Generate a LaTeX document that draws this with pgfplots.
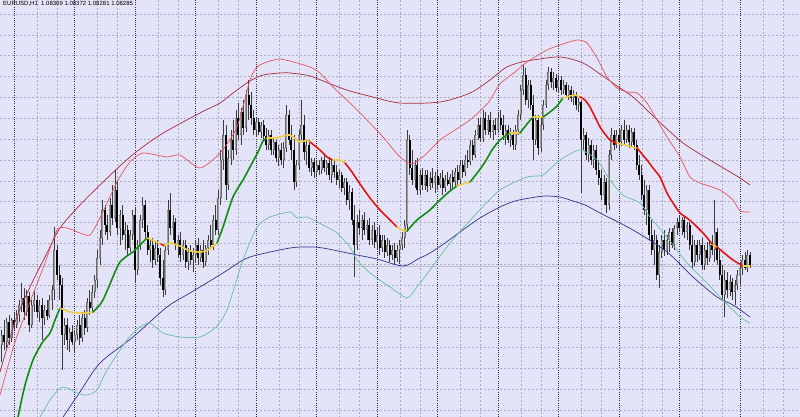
\documentclass[border=0pt]{standalone}
\usepackage{pgfplots}
\usepackage{pgfplotstable}
\usepackage{fontspec}
\setmainfont{Liberation Sans}
\pgfplotsset{compat=1.18}

\definecolor{bg}{RGB}{228,228,248}
\definecolor{gridc}{RGB}{170,170,195}
\definecolor{sepc}{RGB}{50,50,70}
\definecolor{wick}{RGB}{60,60,60}
\definecolor{bullin}{RGB}{160,160,160}
\definecolor{bullout}{RGB}{105,105,105}
\definecolor{maroon}{RGB}{170,40,60}
\definecolor{lred}{RGB}{228,85,95}
\definecolor{navy}{RGB}{50,50,140}
\definecolor{teal}{RGB}{105,190,165}
\definecolor{magreen}{RGB}{20,140,20}
\definecolor{mayellow}{RGB}{240,205,70}
\definecolor{mared}{RGB}{228,20,20}

% H1 candles, x and prices in chart pixels (y grows downward)
\pgfplotstableread{
x o h l c
1.5 345 330 362 335
4.0 335 320 350 342
6.5 342 318 348 322
9.1 322 315 345 338
11.6 338 318 342 320
14.1 320 312 330 325
16.6 325 310 328 315
19.1 315 300 322 305
21.7 305 283 312 298
24.2 298 288 320 312
26.7 312 290 316 296
29.2 296 292 332 325
31.7 325 300 328 305
34.3 305 290 312 300
36.8 300 295 318 312
39.3 312 300 322 305
41.8 305 298 340 318
44.3 318 305 325 310
46.9 310 300 320 316
49.4 316 295 318 300
51.9 300 285 310 290
54.4 290 227 300 250
56.9 250 245 280 275
59.5 275 265 300 285
62.0 285 278 370 335
64.5 335 318 345 325
67.0 325 318 350 340
69.5 340 328 352 332
72.1 332 325 345 342
74.6 342 330 352 335
77.1 335 320 340 325
79.6 325 315 345 338
82.1 338 312 342 318
84.7 318 310 335 328
87.2 328 298 332 302
89.7 302 290 315 308
92.2 308 285 312 292
94.7 292 275 298 280
97.3 280 250 288 258
99.8 258 230 265 238
102.3 238 200 245 210
104.8 210 205 235 225
107.3 225 215 240 232
109.9 232 198 236 205
112.4 205 185 225 218
114.9 218 170 222 190
117.4 190 180 235 228
119.9 228 210 245 215
122.5 215 205 240 235
125.0 235 222 250 230
127.5 230 225 255 248
130.0 248 230 252 235
132.5 235 210 240 215
135.1 215 208 283 270
137.6 270 240 275 245
140.1 245 215 250 220
142.6 220 197 228 205
145.1 205 200 240 232
147.7 232 225 255 250
150.2 250 240 262 245
152.7 245 238 268 260
155.2 260 242 265 248
157.7 248 240 262 255
160.3 255 248 285 278
162.8 278 260 297 290
165.3 290 245 295 250
167.8 250 200 255 210
170.3 210 193 235 228
172.9 228 215 240 222
175.4 222 218 250 245
177.9 245 235 258 240
180.4 240 232 262 255
182.9 255 240 260 245
185.5 245 240 268 262
188.0 262 248 270 252
190.5 252 245 265 260
193.0 260 248 272 255
195.5 255 240 262 245
198.1 245 238 265 258
200.6 258 245 262 250
203.1 250 240 268 262
205.6 262 245 266 248
208.1 248 235 255 240
210.7 240 225 248 245
213.2 245 215 250 220
215.7 220 205 235 230
218.2 230 190 235 198
220.7 198 150 205 160
223.3 160 120 170 135
225.8 135 125 200 185
228.3 185 150 190 158
230.8 158 130 165 140
233.3 140 120 160 150
235.9 150 110 155 118
238.4 118 103 140 135
240.9 135 108 145 112
243.4 112 100 135 128
245.9 128 90 132 95
248.5 95 80 120 105
251.0 105 92 125 118
253.5 118 110 135 130
256.0 130 117 137 122
258.5 122 118 135 132
261.1 132 122 138 125
263.6 125 120 140 136
266.1 136 128 150 145
268.6 145 130 150 135
271.1 135 130 155 150
273.7 150 138 155 142
276.2 142 140 162 158
278.7 158 145 166 150
281.2 150 143 165 160
283.7 160 142 168 148
286.3 148 105 152 115
288.8 115 110 145 140
291.3 140 125 160 150
293.8 150 135 190 182
296.3 182 160 187 165
298.9 165 130 170 135
301.4 135 100 140 125
303.9 125 115 160 152
306.4 152 140 165 145
308.9 145 140 172 168
311.5 168 158 176 162
314.0 162 158 178 172
316.5 172 160 176 165
319.0 165 160 175 170
321.5 170 157 174 160
324.1 160 155 172 168
326.6 168 160 175 163
329.1 163 157 180 175
331.6 175 160 183 165
334.1 165 160 178 172
336.7 172 165 185 180
339.2 180 170 188 175
341.7 175 172 192 188
344.2 188 178 195 182
346.7 182 178 205 200
349.3 200 185 210 192
351.8 192 188 225 220
354.3 220 205 277 245
356.8 245 215 250 222
359.3 222 210 235 228
361.9 228 215 240 220
364.4 220 212 235 230
366.9 230 220 240 225
369.4 225 218 245 240
371.9 240 225 245 230
374.5 230 222 248 242
377.0 242 228 250 235
379.5 235 225 255 248
382.0 248 235 252 240
384.5 240 235 258 252
387.1 252 238 256 245
389.6 245 240 262 255
392.1 255 245 260 250
394.6 250 243 265 258
397.1 258 245 262 250
399.7 250 240 264 245
402.2 245 232 250 238
404.7 238 220 248 225
407.2 225 130 232 140
409.7 140 135 175 168
412.3 168 150 185 180
414.8 180 160 188 165
417.3 165 158 195 190
419.8 190 170 195 175
422.3 175 168 190 185
424.9 185 170 190 175
427.4 175 170 192 186
429.9 186 172 190 178
432.4 178 168 188 183
434.9 183 172 193 176
437.5 176 170 190 185
440.0 185 173 188 178
442.5 178 170 195 188
445.0 188 175 192 180
447.5 180 172 186 184
450.1 184 174 190 177
452.6 177 170 188 182
455.1 182 168 186 172
457.6 172 165 185 180
460.1 180 160 184 165
462.7 165 160 178 172
465.2 172 155 176 160
467.7 160 150 168 162
470.2 162 140 165 145
472.7 145 140 160 155
475.3 155 130 158 135
477.8 135 118 140 125
480.3 125 118 142 138
482.8 138 110 142 118
485.3 118 112 135 130
487.9 130 115 135 120
490.4 120 112 138 132
492.9 132 120 140 125
495.4 125 118 135 130
497.9 130 112 133 118
500.5 118 110 130 125
503.0 125 115 140 135
505.5 135 125 145 130
508.0 130 125 143 140
510.5 140 128 147 135
513.1 135 130 150 145
515.6 145 125 150 130
518.1 130 110 135 115
520.6 115 85 120 90
523.1 90 65 95 75
525.7 75 68 105 100
528.2 100 80 108 85
530.7 85 80 110 105
533.2 105 95 160 140
535.7 140 115 145 120
538.3 120 115 155 148
540.8 148 118 152 125
543.3 125 100 130 105
545.8 105 80 108 85
548.3 85 67 90 72
550.9 72 68 88 82
553.4 82 72 90 78
555.9 78 74 92 88
558.4 88 75 92 80
560.9 80 76 95 90
563.5 90 80 94 85
566.0 85 82 98 95
568.5 95 85 100 90
571.0 90 86 102 98
573.5 98 90 105 95
576.1 95 92 110 105
578.6 105 98 112 102
581.1 102 100 193 140
583.6 140 128 150 135
586.1 135 132 160 155
588.7 155 138 162 145
591.2 145 140 165 160
593.7 160 145 168 150
596.2 150 145 175 170
598.7 170 160 185 178
601.3 178 170 200 195
603.8 195 175 205 182
606.3 182 178 213 205
608.8 205 150 210 155
611.3 155 128 160 135
613.9 135 130 150 145
616.4 145 130 148 135
618.9 135 128 150 142
621.4 142 125 146 130
623.9 130 120 145 140
626.5 140 125 143 130
629.0 130 125 148 142
631.5 142 128 146 132
634.0 132 128 150 145
636.5 145 140 170 165
639.1 165 155 180 175
641.6 175 165 200 195
644.1 195 180 215 210
646.6 210 185 225 190
649.1 190 185 240 235
651.7 235 220 255 250
654.2 250 230 265 240
656.7 240 235 280 275
659.2 275 245 288 252
661.7 252 235 258 240
664.3 240 230 256 250
666.8 250 235 255 240
669.3 240 228 252 232
671.8 232 228 248 245
674.3 245 225 250 228
676.9 228 218 235 222
679.4 222 215 232 228
681.9 228 217 235 220
684.4 220 216 238 232
686.9 232 222 240 225
689.5 225 222 250 245
692.0 245 235 268 262
694.5 262 240 266 245
697.0 245 240 262 255
699.5 255 240 260 245
702.1 245 238 270 265
704.6 265 245 270 250
707.1 250 242 265 258
709.6 258 240 262 245
712.1 245 235 255 250
714.7 250 200 262 232
717.2 232 228 265 260
719.7 260 250 280 275
722.2 275 265 300 295
724.7 295 270 317 280
727.3 280 272 298 290
729.8 290 275 296 282
732.3 282 278 300 292
734.8 292 280 305 285
737.3 285 270 290 275
739.9 275 262 285 268
742.4 268 255 275 260
744.9 260 252 270 268
747.4 268 250 272 255
749.9 255 252 268 266
}\candles

\begin{document}
\begin{tikzpicture}
\begin{axis}[
    width=800pt, height=417pt, scale only axis,
    xmin=0, xmax=800, ymin=0, ymax=417,
    y dir=reverse,
    axis line style={draw=none},
    axis background/.style={fill=bg},
    major tick length=0pt,
    xtick={37,57,97.5,117.5,158,178,218.5,238.5,279,299,339.5,359.5,400,420,460.5,480.5,521,541,581.5,601.5,642,662,702.5,722.5,763,783},
    ytick={14,34.85,55.7,76.55,97.4,118.25,139.1,159.95,180.8,201.65,222.5,243.35,264.2,285.05,305.9,326.75,347.6,368.45,389.3,410.15},
    xticklabels={}, yticklabels={},
    grid=major,
    major grid style={draw=gridc, line width=0.5pt, dash pattern=on 2pt off 2pt},
    extra x ticks={14,74.5,135,195.5,256,316.5,377,437.5,498,558.5,619,679.5,740},
    extra x tick labels={},
    extra x tick style={grid=major, major grid style={draw=sepc, line width=0.7pt, dash pattern=on 1pt off 1.2pt}},
    candle/.style={draw=none, mark=none,
        error bars/y dir=both, error bars/y explicit, error bars/error mark=none},
]

% bid line
\addplot[draw={rgb,255:red,190;green,190;blue,200}, line width=0.6pt] coordinates {(0,266) (800,266)};

% wicks
\addplot[candle, error bars/error bar style={line width=0.55pt, draw=wick}]
    table[x=x, y=h, y error plus expr=\thisrow{l}-\thisrow{h}, y error minus expr=0] {\candles};

% bull bodies
\addplot[candle, restrict expr to domain={\thisrow{o}-\thisrow{c}}{0.001:1000},
    error bars/error bar style={line width=2.0pt, draw=bullout}]
    table[x=x, y=c, y error plus expr=\thisrow{o}-\thisrow{c}, y error minus expr=0] {\candles};
\addplot[candle, restrict expr to domain={\thisrow{o}-\thisrow{c}}{1.3:1000},
    error bars/error bar style={line width=0.9pt, draw=bullin}]
    table[x=x, y expr=\thisrow{c}+0.6, y error plus expr=\thisrow{o}-\thisrow{c}-1.2, y error minus expr=0] {\candles};

% bear bodies
\addplot[candle, restrict expr to domain={\thisrow{c}-\thisrow{o}}{0:1000},
    error bars/error bar style={line width=2.0pt, draw=black}]
    table[x=x, y=o, y error plus expr=\thisrow{c}-\thisrow{o}, y error minus expr=0] {\candles};

% outer upper band
\addplot[maroon, line width=0.7pt, smooth] coordinates {
(0,372) (15,322) (30,287) (45,257) (60,228) (80,205) (100,185) (130,157) (160,135)
(200,113) (220,103) (233,93) (250,81) (263,75) (280,73) (290,73) (310,76) (333,85)
(350,91) (373,97) (400,103) (440,102) (470,93) (490,80) (505,68) (518,63) (533,60)
(560,57) (583,63) (600,74) (617,86) (633,97) (650,113) (667,129) (683,143) (700,154)
(720,166) (740,178) (750,185)};

% inner upper band
\addplot[lred, line width=0.7pt, smooth, tension=0.4] coordinates {
(0,395) (15,342) (30,302) (45,263) (57,230) (67,228) (80,233) (90,235) (100,218)
(117,182) (130,162) (143,153) (167,157) (180,155) (200,168) (220,153) (237,127)
(250,80) (257,67) (267,62) (280,59) (297,63) (310,67) (320,73) (333,87) (350,103)
(367,120) (383,137) (400,157) (412,164) (425,155) (440,140) (455,130) (470,120)
(488,103) (500,84) (515,72) (527,62) (547,50) (560,45) (577,40) (587,43) (597,58)
(607,77) (617,88) (627,92) (637,93) (647,103) (657,120) (667,137) (680,157)
(690,177) (700,183) (720,190) (733,200) (740,211) (750,212)};

% slow lower line
\addplot[navy, line width=0.7pt, smooth] coordinates {
(63,417) (80,392) (100,363) (133,337) (167,307) (190,293) (223,273) (243,260)
(257,255) (290,248) (307,247) (323,248) (357,255) (377,259) (403,266) (418,259)
(430,253) (445,243) (460,232) (480,218) (500,207) (515,201) (530,198) (545,196)
(560,197) (570,200) (585,205) (600,213) (633,230) (667,252) (693,277) (717,297)
(733,305) (750,317)};

% lower band
\addplot[teal, line width=0.7pt, smooth, tension=0.4] coordinates {
(40,417) (50,400) (60,388) (67,388) (80,394) (87,395) (97,390) (107,370) (127,340)
(140,327) (150,323) (163,333) (180,337) (200,337) (215,328) (227,310) (243,260)
(257,227) (270,217) (290,212) (297,218) (307,217) (323,225) (337,233) (350,247)
(357,260) (370,273) (390,287) (407,298) (417,287) (430,270) (450,243) (475,215)
(500,190) (527,177) (543,175) (560,160) (580,150) (597,160) (610,180) (623,195)
(640,203) (650,217) (667,237) (687,263) (707,283) (723,300) (740,317) (750,323)};

% coloured moving average
\pgfplotsset{ma/.style={line width=1.6pt, line cap=round, smooth, tension=0.4}}
\addplot[ma, magreen] coordinates {(18,417) (25,385) (33,360) (42,343) (50,333) (55,320) (60,308)};
\addplot[ma, mayellow] coordinates {(60,308) (65,310) (70,312) (80,313) (87,313) (93,312)};
\addplot[ma, magreen] coordinates {(93,312) (98,307) (103,300) (110,284) (115,272) (120,262) (127,256) (133,252) (140,245) (147,238)};
\addplot[ma, mayellow] coordinates {(147,238) (152,240) (157,242) (161,244)};
\addplot[ma, mared] coordinates {(161,244) (165,246)};
\addplot[ma, mayellow] coordinates {(165,246) (170,243) (180,246) (190,251) (200,252) (208,250) (217,243)};
\addplot[ma, magreen] coordinates {(217,243) (223,227) (233,197) (243,180) (250,167) (258,152) (263,141) (267,138)};
\addplot[ma, mayellow] coordinates {(267,138) (275,138) (280,137) (290,135) (300,142) (307,140) (310,142)};
\addplot[ma, mared] coordinates {(310,142) (320,150) (327,157) (333,160)};
\addplot[ma, mayellow] coordinates {(333,160) (340,160) (345,163)};
\addplot[ma, mared] coordinates {(345,163) (352,172) (360,184) (370,198) (380,210) (390,220) (397,227)};
\addplot[ma, mayellow] coordinates {(397,227) (402,230) (407,231)};
\addplot[ma, magreen] coordinates {(407,231) (417,220) (430,210) (440,200) (450,191) (457,186)};
\addplot[ma, mayellow] coordinates {(457,186) (463,184) (470,182)};
\addplot[ma, magreen] coordinates {(470,182) (478,172) (485,162) (492,150) (500,140) (510,133)};
\addplot[ma, mayellow] coordinates {(510,133) (515,133) (520,133)};
\addplot[ma, magreen] coordinates {(520,133) (527,124) (533,117)};
\addplot[ma, mayellow] coordinates {(533,117) (538,117) (543,117)};
\addplot[ma, magreen] coordinates {(543,117) (550,112) (557,106) (563,98)};
\addplot[ma, mayellow] coordinates {(563,98) (570,96) (575,95) (580,97)};
\addplot[ma, mared] coordinates {(580,97) (585,100) (590,107) (595,117) (600,127) (605,134) (610,140) (617,143)};
\addplot[ma, mayellow] coordinates {(617,143) (625,145) (632,147) (637,148)};
\addplot[ma, mared] coordinates {(637,148) (642,154) (647,160) (653,168) (660,177) (667,193) (673,203) (680,213) (687,218) (693,223) (703,233) (713,245)};
\addplot[ma, mayellow] coordinates {(713,245) (717,247)};
\addplot[ma, mared] coordinates {(717,247) (723,252) (733,260) (743,266)};
\addplot[ma, mayellow] coordinates {(743,266) (750,266)};

\node[anchor=base west, inner sep=0pt, font=\fontsize{6}{7}\selectfont] at (axis cs:3,5.5)
    {EURUSD,H1\ \ 1.08369 1.08372 1.08281 1.08285};
\end{axis}
\pgfresetboundingbox
\path[use as bounding box] (current axis.south west) rectangle (current axis.north east);
\end{tikzpicture}
\end{document}
